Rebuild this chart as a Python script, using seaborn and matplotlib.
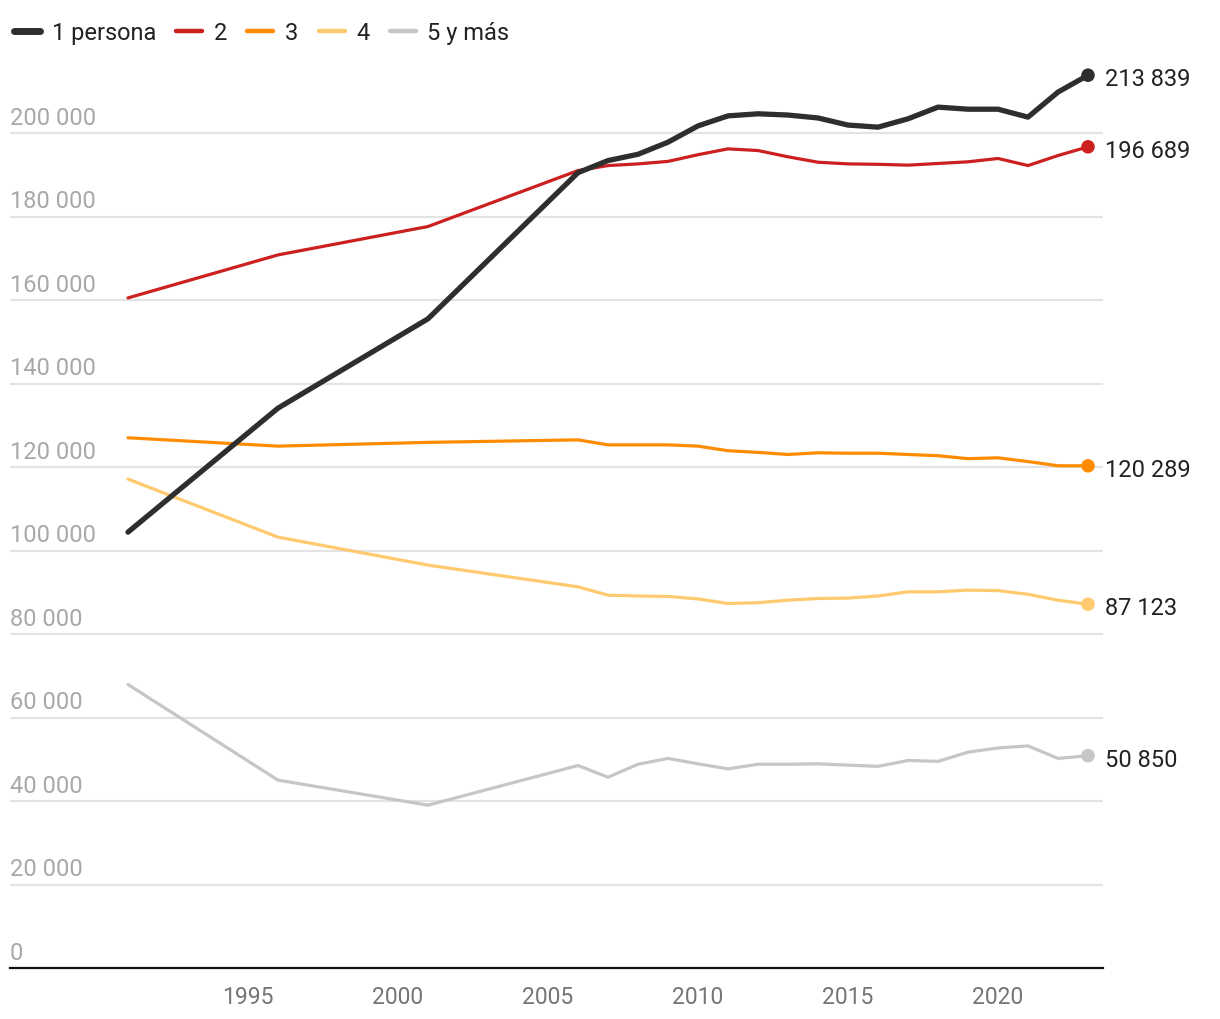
import numpy as np
import pandas as pd
import seaborn as sns
import matplotlib
matplotlib.use("Agg")
import matplotlib.pyplot as plt
from matplotlib.lines import Line2D
from matplotlib.transforms import blended_transform_factory, offset_copy

# ---- data ----
years = [1991, 1996, 2001, 2006, 2007, 2008, 2009, 2010, 2011, 2012, 2013,
         2014, 2015, 2016, 2017, 2018, 2019, 2020, 2021, 2022, 2023]
persona1 = [104400, 134100, 155500, 190500, 193400, 194900, 197800, 201700, 204100,
            204600, 204300, 203600, 201900, 201400, 203400, 206200, 205700, 205700,
            203800, 209800, 213839]
personas2 = [160500, 170800, 177600, 191000, 192200, 192600, 193200, 194800, 196200,
             195800, 194300, 193000, 192600, 192500, 192300, 192700, 193100, 193900,
             192200, 194600, 196689]
personas3 = [127000, 125000, 125900, 126500, 125300, 125300, 125300, 125000, 123900,
             123500, 123000, 123400, 123300, 123300, 123000, 122700, 122000, 122200,
             121300, 120300, 120289]
personas4 = [117100, 103200, 96500, 91300, 89300, 89100, 89000, 88400, 87300,
             87500, 88100, 88500, 88600, 89100, 90100, 90100, 90500, 90400,
             89500, 88100, 87123]
personas5 = [67900, 45000, 39000, 48500, 45700, 48800, 50200, 48900, 47700,
             48800, 48800, 48900, 48600, 48300, 49700, 49500, 51700, 52700,
             53200, 50200, 50850]

series_names = ["1 persona", "2", "3", "4", "5 y más"]
series_vals = [persona1, personas2, personas3, personas4, personas5]
colors = ["#2e2e2e", "#cc1f1f", "#ff8c00", "#ffc96e", "#c6c6c6"]
widths = [3.8, 2.3, 2.3, 2.3, 2.3]

y_ticks = list(range(0, 200001, 20000))
x_ticks = [1995, 2000, 2005, 2010, 2015, 2020]

df = pd.concat([pd.DataFrame({"year": years, "value": v, "serie": n})
                for n, v in zip(series_names, series_vals)], ignore_index=True)

# ---- style ----
sns.set_theme(style="white")
plt.rcParams["font.family"] = ["Roboto", "DejaVu Sans"]

W, H = 1220, 1020
fig = plt.figure(figsize=(W / 100, H / 100), dpi=100)
ax_left, ax_right, ax_bottom_px, ax_top_px = 10, 1103, 969, 50.5
ax = fig.add_axes([ax_left / W, (H - ax_bottom_px) / H,
                   (ax_right - ax_left) / W, (ax_bottom_px - ax_top_px) / H])

ax.set_xlim(1991 - 118 / 30, 1991 + 975 / 30)
ax.set_ylim(0, 220000)

# grid
ax.set_yticks(y_ticks)
ax.yaxis.grid(True, color="#e3e3e3", linewidth=1.5)
ax.set_axisbelow(True)
ax.tick_params(axis="y", length=0, labelleft=False)

# lines (black drawn last so it sits on top)
order = [4, 3, 2, 1, 0]
for i in order:
    sub = df[df["serie"] == series_names[i]]
    sns.lineplot(data=sub, x="year", y="value", color=colors[i], linewidth=widths[i],
                 ax=ax, legend=False, solid_capstyle="round", solid_joinstyle="round",
                 zorder=3 + (5 - i))

# end dots + labels
last = df[df["year"] == years[-1]]
sns.scatterplot(data=last, x="year", y="value", hue="serie", palette=dict(zip(series_names, colors)),
                s=95, edgecolor="none", legend=False, ax=ax, zorder=10, clip_on=False)
for n, v in zip(series_names, series_vals):
    ax.annotate(f"{v[-1]:,}".replace(",", " "), xy=(years[-1], v[-1]),
                xytext=(12, -2.5), textcoords="offset points", va="center",
                ha="left", fontsize=17, color="#222222", annotation_clip=False)

# y labels above the gridlines
trans = blended_transform_factory(ax.transAxes, ax.transData)
trans_up = offset_copy(trans, fig=fig, x=0, y=3, units="points")
for t in y_ticks:
    ax.text(0.0, t, f"{t:,}".replace(",", " "), transform=trans_up, ha="left",
            va="bottom", fontsize=17, color="#a8a8a8")

# x axis
ax.set_xticks(x_ticks)
ax.tick_params(axis="x", length=0, pad=12, labelsize=16.5, labelcolor="#757575")
ax.set_xlabel("")
ax.set_ylabel("")
for s in ["top", "right", "left"]:
    ax.spines[s].set_visible(False)
ax.spines["bottom"].set_color("#111111")
ax.spines["bottom"].set_linewidth(1.6)

# legend
handles = [Line2D([0], [0], color=c, lw=(5 if i == 0 else 3.2), solid_capstyle="round")
           for i, c in enumerate(colors)]
fig.legend(handles, series_names, loc="upper left", bbox_to_anchor=(14 / W, 1 - 22 / H),
           ncol=5, frameon=False, fontsize=17, handlelength=1.1, handletextpad=0.5,
           columnspacing=0.85, labelcolor="#222222", borderaxespad=0, borderpad=0)

fig.savefig("out.png", dpi=100)
